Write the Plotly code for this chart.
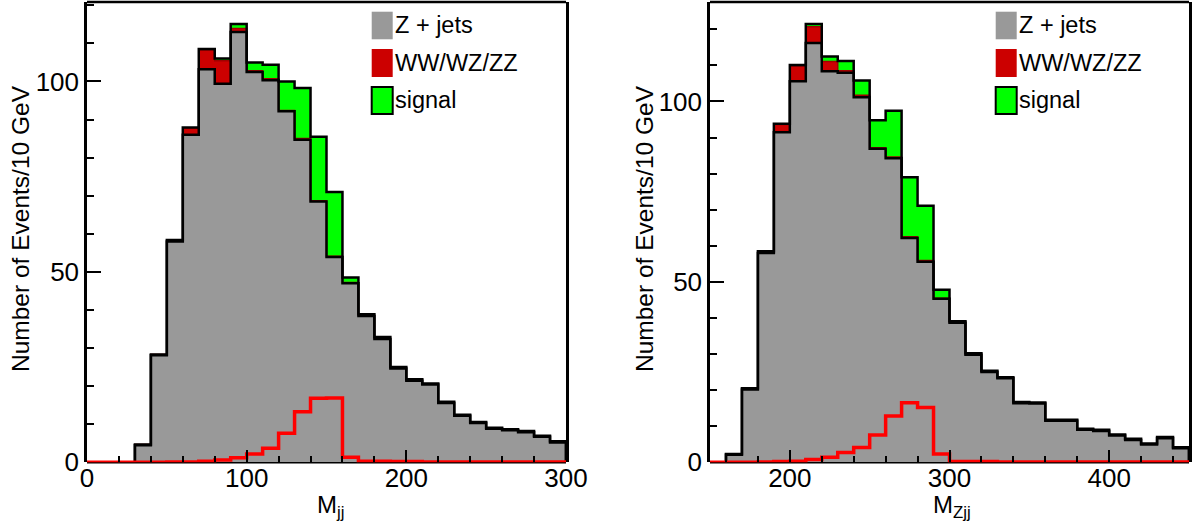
import plotly.graph_objects as go
import numpy as np

W, H = 1192, 527
FONT = "Liberation Sans, Arial, Helvetica, sans-serif"

# ---------------- data ----------------
BIN_W = 10
# Left panel: M_jj, 10 GeV bins from 0 to 300
mjj_first_edge = 0
mjj_zjets = [0, 0, 0, 4.5, 28.1, 58.0, 86.0, 103.2, 99.4, 113.0,
             102.5, 100.3, 92.2, 84.7, 68.5, 53.9, 47.0, 38.4, 32.4, 24.6,
             21.4, 20.4, 15.6, 12.2, 10.3, 8.8, 8.4, 7.9, 6.7, 5.2]
mjj_diboson = [0, 0, 0, 0.2, 0.2, 0.3, 1.8, 5.0, 6.0, 0.9,
               0.3, 0.4, 0.2, 0.3, 0.2, 0.2, 0.2, 0.2, 0.2, 0.2,
               0.2, 0.2, 0.2, 0.2, 0.2, 0.2, 0.2, 0.2, 0.2, 0.2]
mjj_signal = [0, 0, 0, 0, 0, 0.05, 0.1, 0.3, 0.6, 1.2,
              2.2, 3.7, 7.6, 13.3, 16.8, 16.9, 1.3, 0.3, 0.3, 0.2,
              0.2, 0.1, 0.1, 0.1, 0.1, 0.1, 0.1, 0.1, 0.1, 0.1]

# Right panel: M_Zjj, 10 GeV bins from 150 to 450
mzjj_first_edge = 150
mzjj_zjets = [0, 2.1, 20.2, 58.0, 91.5, 105.6, 116.2, 108.4, 108.0, 101.2,
              86.9, 84.3, 62.2, 55.6, 45.3, 38.7, 29.8, 25.0, 23.3, 16.4,
              16.3, 11.5, 11.5, 9.0, 8.7, 7.4, 6.2, 4.9, 6.7, 3.9]
mzjj_diboson = [0, 0.2, 0.3, 0.4, 2.1, 4.2, 4.5, 2.7, 0.5, 0.5,
                0.3, 0.3, 0.3, 0.3, 0.2, 0.2, 0.2, 0.2, 0.2, 0.2,
                0.2, 0.2, 0.2, 0.2, 0.2, 0.2, 0.2, 0.2, 0.2, 0.2]
mzjj_signal = [0, 0, 0, 0.1, 0.2, 0.3, 0.8, 1.4, 2.7, 4.1,
               7.6, 12.8, 16.5, 15.2, 2.3, 0.2, 0.2, 0.2, 0.1, 0.1,
               0.1, 0.1, 0.1, 0.1, 0.1, 0.1, 0.1, 0.1, 0.1, 0.1]

legend_labels = ["Z + jets", "WW/WZ/ZZ", "signal"]
y_title = "Number of Events/10 GeV"
x_titles = ["M<sub>jj</sub>", "M<sub>Zjj</sub>"]

C_GRAY = "#999999"
C_RED = "#cc0000"
C_GREEN = "#00ff00"
C_SIG = "#ff0000"

fig = go.Figure()


def step_xy(edges, vals):
    xs = [edges[0]] + list(edges[:-1]) + [edges[-1], edges[-1]]
    ys = [0] + list(vals) + [vals[-1], 0]
    return xs, ys


def add_panel(first_edge, zj, vv, sig, xa, ya):
    zj = np.array(zj, float)
    vv = np.array(vv, float)
    sig = np.array(sig, float)
    n = len(zj)
    edges = first_edge + BIN_W * np.arange(n + 1)
    centers = edges[:-1] + BIN_W / 2
    for vals, col in ((zj, C_GRAY), (vv, C_RED), (sig, C_GREEN)):
        fig.add_trace(go.Bar(x=centers, y=vals, width=BIN_W, marker=dict(color=col, line=dict(width=0)),
                             xaxis=xa, yaxis=ya, showlegend=False, hoverinfo="skip"))
    cum1 = zj
    cum2 = zj + vv
    cum3 = zj + vv + sig
    for vals, col, lw in ((cum2, "#a00000", 1.5), (cum3, "black", 2.5), (cum1, "black", 2.5)):
        xs, ys = step_xy(edges, vals)
        fig.add_trace(go.Scatter(x=xs, y=ys, mode="lines", line=dict(color=col, width=lw, shape="hv"),
                                 xaxis=xa, yaxis=ya, showlegend=False, hoverinfo="skip"))
    xs, ys = step_xy(edges, sig)
    fig.add_trace(go.Scatter(x=xs, y=ys, mode="lines", line=dict(color=C_SIG, width=3.5, shape="hv"),
                             xaxis=xa, yaxis=ya, showlegend=False, hoverinfo="skip"))
    return cum3.max()


m1 = add_panel(mjj_first_edge, mjj_zjets, mjj_diboson, mjj_signal, "x", "y")
m2 = add_panel(mzjj_first_edge, mzjj_zjets, mzjj_diboson, mzjj_signal, "x2", "y2")


def px(x):
    return x / W


def py(y):
    return 1 - y / H


ydom = [py(462.3), py(2)]
left_dom = [px(87), px(566)]
right_dom = [px(710), px(1189)]

tickfont = dict(family=FONT, size=26, color="black")


def xaxis_cfg(dom, rng, anchor):
    return dict(domain=dom, range=rng, anchor=anchor, showline=False, showgrid=False, zeroline=False,
                ticks="inside", ticklen=12, tickwidth=2, tickcolor="black", dtick=100, tick0=0,
                minor=dict(dtick=20, tick0=0, ticks="inside", ticklen=6, tickwidth=2, tickcolor="black", showgrid=False),
                tickfont=tickfont, fixedrange=True, ticklabelstandoff=-2)


def yaxis_cfg(rng, anchor):
    return dict(domain=ydom, range=rng, anchor=anchor, showline=True, linecolor="black", linewidth=2.5,
                mirror=True, showgrid=False, zeroline=False,
                ticks="inside", ticklen=14, tickwidth=2, tickcolor="black", dtick=50, tick0=0,
                minor=dict(dtick=10, tick0=0, ticks="inside", ticklen=7, tickwidth=2, tickcolor="black", showgrid=False),
                tickfont=tickfont, fixedrange=True)


fig.update_layout(
    width=W, height=H, template="none",
    paper_bgcolor="white", plot_bgcolor="white",
    margin=dict(l=0, r=0, t=0, b=0),
    barmode="stack", bargap=0, showlegend=False,
    xaxis=xaxis_cfg(left_dom, [0, 300], "y"),
    yaxis=yaxis_cfg([0, m1 * 1.05], "x"),
    xaxis2=xaxis_cfg(right_dom, [150, 450], "y2"),
    yaxis2=yaxis_cfg([0, m2 * 1.05], "x2"),
)

shapes = []
annotations = []
for xr, yr in (("x", "y"), ("x2", "y2")):
    shapes.append(dict(type="line", xref=f"{xr} domain", yref=f"{yr} domain", x0=0, x1=1, y0=1, y1=1,
                       line=dict(color="black", width=2.5), layer="above"))
    shapes.append(dict(type="line", xref=f"{xr} domain", yref=f"{yr} domain", x0=0, x1=1, y0=0, y1=0,
                       line=dict(color="black", width=2.5), layer="below"))

# legends (drawn as boxes + text)
row_tops = [11.7, 49.0, 87.0]
row_bots = [39.3, 77.0, 114.0]
for box_x in (371.7, 995.7):
    for lab, col, t, b in zip(legend_labels, (C_GRAY, C_RED, C_GREEN), row_tops, row_bots):
        shapes.append(dict(type="rect", xref="paper", yref="paper", x0=px(box_x), x1=px(box_x + 21),
                           y0=py(b), y1=py(t), fillcolor=col,
                           line=dict(color="black" if col == C_GREEN else col, width=2 if col == C_GREEN else 0),
                           layer="above"))
        annotations.append(dict(text=lab, xref="paper", yref="paper", x=px(box_x + 21.5), y=py((t + b) / 2),
                                xanchor="left", yanchor="middle", showarrow=False,
                                font=dict(family=FONT, size=23.5, color="black")))

# axis titles
for xc, yc in ((20, 229), (644, 229)):
    annotations.append(dict(text=y_title, xref="paper", yref="paper", x=px(xc), y=py(yc), textangle=-90,
                            xanchor="center", yanchor="middle", showarrow=False,
                            font=dict(family=FONT, size=24.5, color="black")))
for t, xc in zip(x_titles, (330, 952)):
    annotations.append(dict(text=t, xref="paper", yref="paper", x=px(xc), y=py(506),
                            xanchor="center", yanchor="middle", showarrow=False,
                            font=dict(family=FONT, size=24, color="black")))

fig.update_layout(shapes=shapes, annotations=annotations)
fig.write_html("out.html", config={"displayModeBar": False},
               post_script="document.body.style.margin='0px';")
